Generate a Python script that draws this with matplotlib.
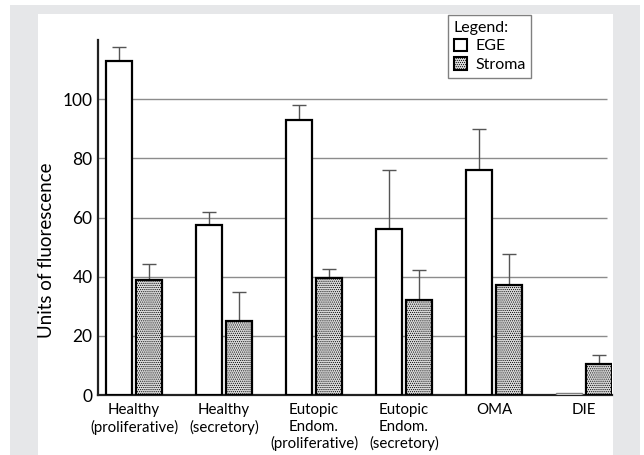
import matplotlib.pyplot as plt
from matplotlib.patches import Patch, Rectangle
import numpy as np

plt.rcParams['font.family'] = ['Lato', 'DejaVu Sans']
plt.rcParams['hatch.linewidth'] = 0.5
plt.rcParams['hatch.color'] = '#a4a4a4'

####### Data #######
categories = ['Healthy\n(proliferative)', 'Healthy\n(secretory)',
              'Eutopic\nEndom.\n(proliferative)', 'Eutopic\nEndom.\n(secretory)',
              'OMA', 'DIE']
ege_mean = [112.9, 57.5, 93.0, 56.2, 76.0, 0.8]
ege_err = [4.7, 4.5, 5.0, 19.8, 13.8, 0.0]
stroma_mean = [39.0, 25.1, 39.5, 32.0, 37.3, 10.5]
stroma_err = [5.2, 9.7, 3.1, 10.3, 10.5, 3.0]
y_ticks = [0, 20, 40, 60, 80, 100]

W, H = 644, 455
fig = plt.figure(figsize=(W / 100, H / 100), dpi=100, facecolor='white')

# gray frame + white panel behind the plot
fig.patches.append(Rectangle((10 / W, 0), (640 - 10) / W, (H - 5) / H,
                             transform=fig.transFigure, facecolor='#e6e7e9',
                             edgecolor='none', zorder=-2))
fig.patches.append(Rectangle((38 / W, 0), (613 - 38) / W, (H - 14) / H,
                             transform=fig.transFigure, facecolor='white',
                             edgecolor='none', zorder=-1))

ax = fig.add_axes([98 / W, 1 - 395 / H, (612 - 98) / W, (395 - 40) / H])
ax.set_facecolor('none')

x = np.arange(len(categories))
w = 26 / 90
off = 15 / 90
x_left, x_right = -0.4, 5 + 28 / 90

ege_edges = ['black'] * (len(x) - 1) + ['#808080']
ege_lw = [1.6] * (len(x) - 1) + [1.0]
ax.bar(x - off, ege_mean, width=w, color='white', edgecolor=ege_edges,
       linewidth=ege_lw, zorder=3)
ax.bar(x + off, stroma_mean, width=w, color='#dadada', edgecolor='black',
       linewidth=1.6, hatch='........', zorder=3)

# upward-only error bars
for xs, m, e in [(x - off, ege_mean, ege_err), (x + off, stroma_mean, stroma_err)]:
    keep = [i for i in range(len(xs)) if e[i] > 0]
    ax.errorbar(xs[keep], np.array(m)[keep],
                yerr=[np.zeros(len(keep)), np.array(e)[keep]],
                fmt='none', ecolor='#555555', elinewidth=1.0,
                capsize=4.7, capthick=1.0, zorder=2)

ax.set_xlim(x_left, x_right)
ax.set_ylim(0, 120)
ax.set_yticks(y_ticks)
ax.set_yticklabels([str(t) for t in y_ticks], fontsize=12.5)
ax.set_xticks(x)
ax.set_xticklabels(categories, fontsize=10.8, linespacing=1.2)
ax.tick_params(axis='both', length=0)
ax.tick_params(axis='y', pad=4)
ax.tick_params(axis='x', pad=6)

# gridlines stop a little short of the right end of the baseline
grid_end = x_left + (607 - 98) / 90
ax.hlines(y_ticks[1:], x_left, grid_end, color='#8c8c8c', linewidth=1.0, zorder=0)
for s in ['top', 'right']:
    ax.spines[s].set_visible(False)
for s in ['left', 'bottom']:
    ax.spines[s].set_linewidth(1.6)
    ax.spines[s].set_color('#222222')

fig.text(47 / W, 1 - 250 / H, 'Units of fluorescence', rotation=90,
         ha='center', va='center', fontsize=13.5)

handles = [Patch(facecolor='white', edgecolor='black', linewidth=1.5, label='EGE'),
           Patch(facecolor='#dadada', edgecolor='black', linewidth=1.5,
                 hatch='........', label='Stroma')]
leg = fig.legend(handles=handles, title='Legend:', loc='upper left',
                 bbox_to_anchor=(448 / W, 1 - 15 / H), fontsize=11.5,
                 title_fontsize=11.5, alignment='left', fancybox=False,
                 framealpha=1, edgecolor='#808080', handlelength=0.85,
                 handleheight=0.85, handletextpad=0.5, borderpad=0.35,
                 labelspacing=0.25, borderaxespad=0)
leg.get_frame().set_linewidth(1.0)

fig.savefig('out.png', dpi=100, facecolor=fig.get_facecolor())
